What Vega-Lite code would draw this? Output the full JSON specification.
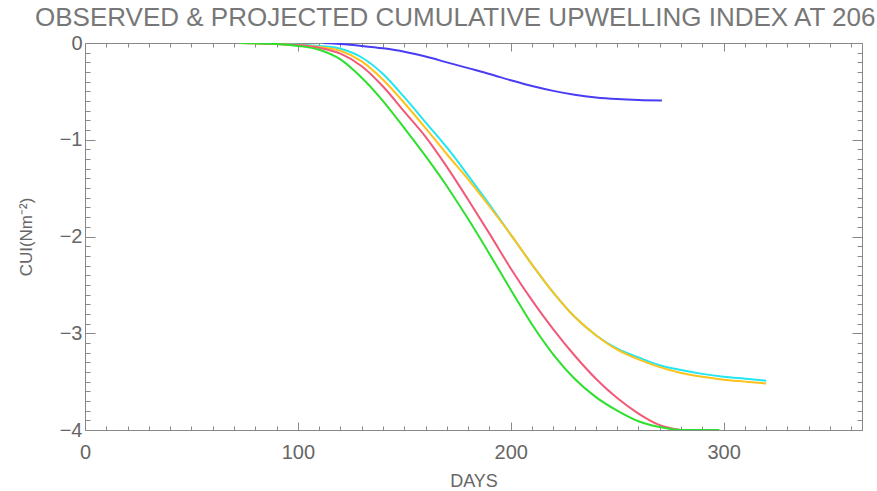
{
  "$schema": "https://vega.github.io/schema/vega-lite/v6.json",
  "width": 777,
  "height": 387,
  "autosize": {"type": "none"},
  "padding": {"left": 85, "top": 43, "right": 15, "bottom": 61},
  "background": "white",
  "config": {"view": {"stroke": null}, "font": "Liberation Sans"},
  "title": {
    "text": "OBSERVED & PROJECTED CUMULATIVE UPWELLING INDEX AT 206",
    "anchor": "start",
    "frame": "group",
    "dx": -50,
    "dy": 33,
    "offset": 14,
    "font": "Liberation Sans",
    "fontSize": 26,
    "fontWeight": "normal",
    "color": "#777777",
    "baseline": "alphabetic"
  },
  "data": {
    "values": [
      {"series": "B", "day": 112, "cui": 0},
      {"series": "B", "day": 120, "cui": -0.01},
      {"series": "B", "day": 130, "cui": -0.03},
      {"series": "B", "day": 140, "cui": -0.055},
      {"series": "B", "day": 150, "cui": -0.09},
      {"series": "B", "day": 160, "cui": -0.14},
      {"series": "B", "day": 170, "cui": -0.2},
      {"series": "B", "day": 180, "cui": -0.26},
      {"series": "B", "day": 190, "cui": -0.32},
      {"series": "B", "day": 200, "cui": -0.385},
      {"series": "B", "day": 210, "cui": -0.445},
      {"series": "B", "day": 220, "cui": -0.495},
      {"series": "B", "day": 230, "cui": -0.535},
      {"series": "B", "day": 240, "cui": -0.563},
      {"series": "B", "day": 250, "cui": -0.58},
      {"series": "B", "day": 260, "cui": -0.59},
      {"series": "B", "day": 271, "cui": -0.595},

      {"series": "C", "day": 78, "cui": 0},
      {"series": "C", "day": 90, "cui": -0.005},
      {"series": "C", "day": 100, "cui": -0.015},
      {"series": "C", "day": 110, "cui": -0.03},
      {"series": "C", "day": 120, "cui": -0.06},
      {"series": "C", "day": 130, "cui": -0.15},
      {"series": "C", "day": 140, "cui": -0.32},
      {"series": "C", "day": 150, "cui": -0.56},
      {"series": "C", "day": 160, "cui": -0.82},
      {"series": "C", "day": 170, "cui": -1.08},
      {"series": "C", "day": 180, "cui": -1.37},
      {"series": "C", "day": 190, "cui": -1.67},
      {"series": "C", "day": 200, "cui": -1.98},
      {"series": "C", "day": 210, "cui": -2.29},
      {"series": "C", "day": 220, "cui": -2.58},
      {"series": "C", "day": 230, "cui": -2.83},
      {"series": "C", "day": 240, "cui": -3.02},
      {"series": "C", "day": 250, "cui": -3.16},
      {"series": "C", "day": 260, "cui": -3.25},
      {"series": "C", "day": 270, "cui": -3.33},
      {"series": "C", "day": 280, "cui": -3.38},
      {"series": "C", "day": 290, "cui": -3.42},
      {"series": "C", "day": 300, "cui": -3.45},
      {"series": "C", "day": 310, "cui": -3.47},
      {"series": "C", "day": 320, "cui": -3.49},

      {"series": "O", "day": 75, "cui": 0},
      {"series": "O", "day": 90, "cui": -0.01},
      {"series": "O", "day": 100, "cui": -0.02},
      {"series": "O", "day": 110, "cui": -0.04},
      {"series": "O", "day": 120, "cui": -0.08},
      {"series": "O", "day": 130, "cui": -0.19},
      {"series": "O", "day": 140, "cui": -0.38},
      {"series": "O", "day": 150, "cui": -0.62},
      {"series": "O", "day": 160, "cui": -0.88},
      {"series": "O", "day": 170, "cui": -1.15},
      {"series": "O", "day": 180, "cui": -1.41},
      {"series": "O", "day": 190, "cui": -1.69},
      {"series": "O", "day": 200, "cui": -1.98},
      {"series": "O", "day": 210, "cui": -2.29},
      {"series": "O", "day": 220, "cui": -2.58},
      {"series": "O", "day": 230, "cui": -2.83},
      {"series": "O", "day": 240, "cui": -3.02},
      {"series": "O", "day": 250, "cui": -3.17},
      {"series": "O", "day": 260, "cui": -3.27},
      {"series": "O", "day": 270, "cui": -3.35},
      {"series": "O", "day": 280, "cui": -3.41},
      {"series": "O", "day": 290, "cui": -3.45},
      {"series": "O", "day": 300, "cui": -3.48},
      {"series": "O", "day": 310, "cui": -3.5},
      {"series": "O", "day": 320, "cui": -3.52},

      {"series": "R", "day": 73, "cui": 0},
      {"series": "R", "day": 90, "cui": -0.01},
      {"series": "R", "day": 100, "cui": -0.02},
      {"series": "R", "day": 110, "cui": -0.05},
      {"series": "R", "day": 120, "cui": -0.11},
      {"series": "R", "day": 130, "cui": -0.24},
      {"series": "R", "day": 140, "cui": -0.45},
      {"series": "R", "day": 150, "cui": -0.71},
      {"series": "R", "day": 160, "cui": -0.97},
      {"series": "R", "day": 170, "cui": -1.28},
      {"series": "R", "day": 180, "cui": -1.62},
      {"series": "R", "day": 190, "cui": -1.97},
      {"series": "R", "day": 200, "cui": -2.33},
      {"series": "R", "day": 210, "cui": -2.66},
      {"series": "R", "day": 220, "cui": -2.96},
      {"series": "R", "day": 230, "cui": -3.23},
      {"series": "R", "day": 240, "cui": -3.47},
      {"series": "R", "day": 250, "cui": -3.67},
      {"series": "R", "day": 260, "cui": -3.83},
      {"series": "R", "day": 270, "cui": -3.95},
      {"series": "R", "day": 280, "cui": -4.0},

      {"series": "G", "day": 73, "cui": 0},
      {"series": "G", "day": 90, "cui": -0.01},
      {"series": "G", "day": 100, "cui": -0.03},
      {"series": "G", "day": 110, "cui": -0.07},
      {"series": "G", "day": 120, "cui": -0.17},
      {"series": "G", "day": 130, "cui": -0.36},
      {"series": "G", "day": 140, "cui": -0.6},
      {"series": "G", "day": 150, "cui": -0.88},
      {"series": "G", "day": 160, "cui": -1.17},
      {"series": "G", "day": 170, "cui": -1.48},
      {"series": "G", "day": 180, "cui": -1.82},
      {"series": "G", "day": 190, "cui": -2.18},
      {"series": "G", "day": 200, "cui": -2.55},
      {"series": "G", "day": 210, "cui": -2.91},
      {"series": "G", "day": 220, "cui": -3.22},
      {"series": "G", "day": 230, "cui": -3.47},
      {"series": "G", "day": 240, "cui": -3.66},
      {"series": "G", "day": 250, "cui": -3.8},
      {"series": "G", "day": 260, "cui": -3.91},
      {"series": "G", "day": 270, "cui": -3.97},
      {"series": "G", "day": 280, "cui": -4.0},
      {"series": "G", "day": 298, "cui": -4.0}
    ]
  },
  "resolve": {"axis": {"x": "independent", "y": "independent"}},
  "layer": [
    {
      "mark": {"type": "line", "opacity": 0},
      "encoding": {
        "x": {"field": "day", "type": "quantitative",
          "scale": {"domain": [0, 365], "nice": false, "zero": false},
          "axis": {"orient": "top", "title": null, "labels": false, "grid": false,
            "values": [0,10,20,30,40,50,60,70,80,90,100,110,120,130,140,150,160,170,180,190,200,210,220,230,240,250,260,270,280,290,300,310,320,330,340,350,360],
            "domainColor": "#888888", "tickColor": "#888888",
            "tickSize": {"condition": {"test": "datum.value % 100 === 0", "value": -8}, "value": -4}}},
        "y": {"field": "cui", "type": "quantitative",
          "scale": {"domain": [-4, 0], "nice": false, "zero": false},
          "axis": {"orient": "right", "title": null, "labels": false, "grid": false,
            "values": [-4,-3.9,-3.8,-3.7,-3.6,-3.5,-3.4,-3.3,-3.2,-3.1,-3,-2.9,-2.8,-2.7,-2.6,-2.5,-2.4,-2.3,-2.2,-2.1,-2,-1.9,-1.8,-1.7,-1.6,-1.5,-1.4,-1.3,-1.2,-1.1,-1,-0.9,-0.8,-0.7,-0.6,-0.5,-0.4,-0.3,-0.2,-0.1,0],
            "domainColor": "#888888", "tickColor": "#888888",
            "tickSize": {"condition": {"test": "abs(datum.value - round(datum.value)) < 0.001", "value": -10}, "value": -5}}},
        "detail": {"field": "series"}
      }
    },
    {
      "mark": {"type": "line", "interpolate": "monotone", "clip": true},
      "encoding": {
        "x": {"field": "day", "type": "quantitative",
          "scale": {"domain": [0, 365], "nice": false, "zero": false},
          "axis": {"orient": "bottom", "title": "DAYS", "grid": false,
            "values": [0,10,20,30,40,50,60,70,80,90,100,110,120,130,140,150,160,170,180,190,200,210,220,230,240,250,260,270,280,290,300,310,320,330,340,350,360],
            "labelExpr": "datum.value % 100 === 0 ? datum.label : ''",
            "labelFlush": false, "labelFontSize": 20, "labelColor": "#666666", "labelPadding": 20,
            "titleFontSize": 18, "titleFontWeight": "normal", "titleColor": "#666666", "titlePadding": 10,
            "domainColor": "#888888", "tickColor": "#888888",
            "tickSize": {"condition": {"test": "datum.value % 100 === 0", "value": -8}, "value": -4}}},
        "y": {"field": "cui", "type": "quantitative",
          "scale": {"domain": [-4, 0], "nice": false, "zero": false},
          "axis": {"orient": "left", "title": "CUI(Nm⁻²)", "grid": false,
            "values": [-4,-3.9,-3.8,-3.7,-3.6,-3.5,-3.4,-3.3,-3.2,-3.1,-3,-2.9,-2.8,-2.7,-2.6,-2.5,-2.4,-2.3,-2.2,-2.1,-2,-1.9,-1.8,-1.7,-1.6,-1.5,-1.4,-1.3,-1.2,-1.1,-1,-0.9,-0.8,-0.7,-0.6,-0.5,-0.4,-0.3,-0.2,-0.1,0],
            "labelExpr": "abs(datum.value - round(datum.value)) < 0.001 ? format(datum.value, 'd') : ''",
            "labelFlush": false, "labelFontSize": 20, "labelColor": "#666666", "labelPadding": 13,
            "titleFontSize": 17, "titleFontWeight": "normal", "titleColor": "#666666", "titlePadding": 24,
            "domainColor": "#888888", "tickColor": "#888888",
            "tickSize": {"condition": {"test": "abs(datum.value - round(datum.value)) < 0.001", "value": -10}, "value": -5}}},
        "color": {"field": "series", "type": "nominal", "legend": null,
          "scale": {"domain": ["B", "C", "O", "R", "G"], "range": ["#4a3cf5", "#22e6f2", "#ffc21a", "#f05a78", "#2ee02e"]}},
        "strokeWidth": {"field": "series", "type": "nominal", "legend": null,
          "scale": {"domain": ["B", "C", "O", "R", "G"], "range": [2, 2, 2, 1.5, 2]}},
        "order": {"field": "day"}
      }
    }
  ]
}
